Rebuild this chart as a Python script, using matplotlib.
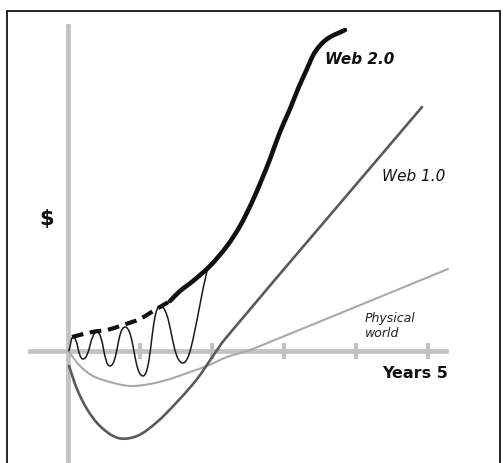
import math
import matplotlib
matplotlib.use("Agg")
import matplotlib.pyplot as plt
from matplotlib.path import Path
from matplotlib.patches import PathPatch, Rectangle

# ---- data (x in years, y in $ units) ----
years_ticks = [1, 2, 3, 4, 5]

web2_dash_x = [0.056, 0.333, 0.542, 0.722, 0.889, 1.000, 1.139, 1.278, 1.417]
web2_dash_y = [0.194, 0.264, 0.292, 0.347, 0.403, 0.444, 0.528, 0.611, 0.694]

web2_x = [1.417, 1.556, 1.736, 1.972, 2.208, 2.389, 2.556, 2.694, 2.806,
          2.944, 3.083, 3.194, 3.319, 3.431, 3.597, 3.847]
web2_y = [0.694, 0.833, 0.972, 1.181, 1.458, 1.736, 2.069, 2.389, 2.667,
          3.042, 3.361, 3.639, 3.917, 4.153, 4.333, 4.458]

# oscillating start-up attempts (extrema)
osc_x = [0.0, 0.069, 0.208, 0.403, 0.583, 0.792, 1.042, 1.278, 1.597, 1.931]
osc_y = [0.0, 0.194, -0.111, 0.264, -0.208, 0.333, -0.347, 0.625, -0.167, 1.111]

web1_x = [0.014, 0.125, 0.264, 0.444, 0.694, 0.958, 1.236, 1.514, 1.792,
          2.014, 2.181, 4.917]
web1_y = [-0.208, -0.528, -0.806, -1.042, -1.208, -1.181, -0.986, -0.708,
          -0.389, -0.069, 0.167, 3.389]

phys_x = [0.014, 0.167, 0.347, 0.583, 0.861, 1.139, 1.417, 1.694, 1.931,
          2.208, 2.486, 2.667, 5.278]
phys_y = [-0.014, -0.208, -0.347, -0.431, -0.486, -0.458, -0.389, -0.292,
          -0.208, -0.083, 0.0, 0.069, 1.139]

labels = {"web2": "Web 2.0", "web1": "Web 1.0", "phys": "Physical\nworld",
          "xlab": "Years 5", "ylab": "$"}


def _unit(a, b):
    dx, dy = b[0] - a[0], b[1] - a[1]
    d = math.hypot(dx, dy) or 1.0
    return dx / d, dy / d


def smooth_path(xs, ys):
    """Smooth curve through the given points (length-limited tangents)."""
    pts = list(zip(xs, ys))
    n = len(pts)
    verts = [pts[0]]
    codes = [Path.MOVETO]
    for i in range(n - 1):
        p0 = pts[i - 1] if i > 0 else pts[i]
        p1 = pts[i]
        p2 = pts[i + 1]
        p3 = pts[i + 2] if i + 2 < n else pts[i + 1]
        seg = math.hypot(p2[0] - p1[0], p2[1] - p1[1]) / 3
        t1 = _unit(p0, p2)
        t2 = _unit(p1, p3)
        c1 = (p1[0] + t1[0] * seg, p1[1] + t1[1] * seg)
        c2 = (p2[0] - t2[0] * seg, p2[1] - t2[1] * seg)
        verts += [c1, c2, p2]
        codes += [Path.CURVE4] * 3
    return Path(verts, codes)


# ---- figure ----
fig = plt.figure(figsize=(5.03, 4.64), dpi=100)
ax = fig.add_axes([0, 0, 1, 1])
ax.set_xlim(-68 / 72, 435 / 72)
ax.set_ylim(-112 / 72, 352 / 72)
ax.set_facecolor("white")

axis_col = "#c2c2c2"
for side in ("top", "right"):
    ax.spines[side].set_visible(False)
for side in ("left", "bottom"):
    ax.spines[side].set_position(("data", 0))
    ax.spines[side].set_color(axis_col)
    ax.spines[side].set_linewidth(3.4)
    ax.spines[side].set_zorder(1)
ax.spines["left"].set_bounds(-1.6, 4.51)
ax.spines["bottom"].set_bounds(-0.53, 5.25)
ax.set_xticks(years_ticks)
ax.set_yticks([])
ax.tick_params(axis="x", direction="inout", length=11, width=3,
               color=axis_col, labelbottom=False)

# frame
ax.add_patch(Rectangle((7 / 503, -0.1), 493 / 503, 1.1 - 12 / 464,
                       transform=ax.transAxes, fill=False, edgecolor="black",
                       linewidth=1.2, clip_on=False, zorder=5))

# physical world
ax.add_patch(PathPatch(smooth_path(phys_x, phys_y), fill=False,
                       edgecolor="#a9a9a9", lw=1.5, zorder=3, capstyle="round"))
# web 1.0
ax.add_patch(PathPatch(smooth_path(web1_x, web1_y), fill=False,
                       edgecolor="#5a5a5a", lw=1.9, zorder=3, capstyle="round"))

# oscillation as smooth bezier through extrema
verts = [(osc_x[0], osc_y[0])]
codes = [Path.MOVETO]
n = len(osc_x)
for i in range(n - 1):
    x0, y0, x1, y1 = osc_x[i], osc_y[i], osc_x[i + 1], osc_y[i + 1]
    dx, dy = x1 - x0, y1 - y0
    if i == n - 2:
        verts += [(x0 + 0.35 * dx, y0), (x0 + 0.55 * dx, y0 + 0.5 * dy), (x1, y1)]
    else:
        verts += [(x0 + 0.5 * dx, y0), (x0 + 0.5 * dx, y1), (x1, y1)]
    codes += [Path.CURVE4] * 3
ax.add_patch(PathPatch(Path(verts, codes), fill=False, edgecolor="#1a1a1a",
                       lw=1.1, zorder=4))

# web 2.0
ax.add_patch(PathPatch(smooth_path(web2_dash_x, web2_dash_y), fill=False,
                       edgecolor="#111111", lw=3.0, zorder=4,
                       linestyle=(0, (2.8, 1.6))))
ax.add_patch(PathPatch(smooth_path(web2_x, web2_y), fill=False,
                       edgecolor="#111111", lw=3.3, zorder=4, capstyle="round"))

# labels
ax.text(3.569, 4.056, labels["web2"], fontsize=11, fontweight="bold",
        fontstyle="italic", va="center", ha="left", color="#111111")
ax.text(4.361, 2.444, labels["web1"], fontsize=11, fontstyle="italic",
        va="center", ha="left", color="#111111")
ax.text(4.125, 0.361, labels["phys"], fontsize=9, fontstyle="italic",
        va="center", ha="left", color="#222222", linespacing=1.15)
ax.text(4.361, -0.292, labels["xlab"], fontsize=11.5, fontweight="bold",
        va="center", ha="left", color="#111111")
ax.text(-0.299, 1.844, labels["ylab"], fontsize=15, fontweight="bold",
        va="center", ha="center", color="#111111")

fig.savefig("out.png", dpi=100, facecolor="white")
